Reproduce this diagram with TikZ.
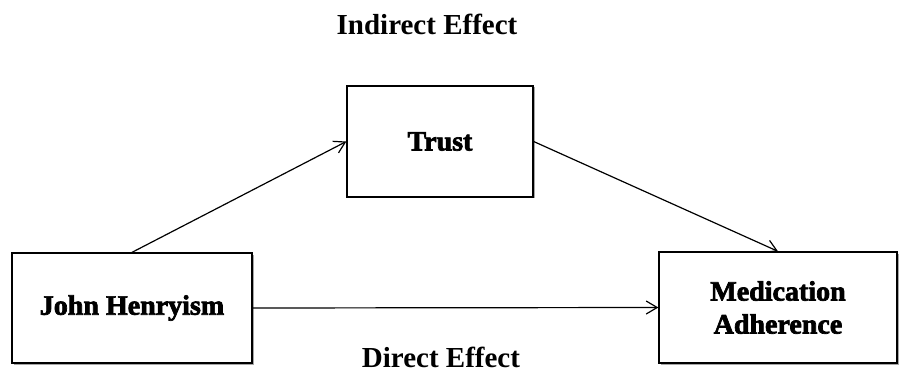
\documentclass[tikz,border=0pt]{standalone}
\usepackage{fontspec}
\setmainfont{Liberation Serif}
\newfontfamily\boxfont{Liberation Serif}[FakeBold=2.5]
\usetikzlibrary{shadows,arrows.meta}

\begin{document}
\begin{tikzpicture}[x=1pt,y=-1pt]
        \useasboundingbox (0,0) rectangle (899,374);
        \tikzstyle{box} = [rectangle, draw, line width=1.3pt, fill=white, align=center,
            font=\boxfont\bfseries\fontsize{28}{33}\selectfont,
            drop shadow={shadow xshift=1.5pt, shadow yshift=-1.5pt, fill=black, opacity=0.35}]
        \tikzstyle{title} = [font=\bfseries\fontsize{29}{34}\selectfont, anchor=base]
        \node[title] (indirect) at (427,35) {Indirect Effect};
        \node[title] (direct) at (441,367) {Direct Effect};
        \node[box, minimum width=186pt, minimum height=111pt] (trust) at (440,141.5) {Trust};
        \node[box, minimum width=240pt, minimum height=110pt] (jh) at (132,308) {John Henryism};
        \node[box, minimum width=238pt, minimum height=111pt] (ma) at (778,307.5) {Medication\\Adherence};
        \foreach \from/\to in {jh.north/trust.west, trust.east/ma.north, jh.east/ma.west}
            \draw[-{Straight Barb[length=11pt,width=13pt]}, line width=1.2pt] (\from) -- (\to);
    \end{tikzpicture}
\end{document}
